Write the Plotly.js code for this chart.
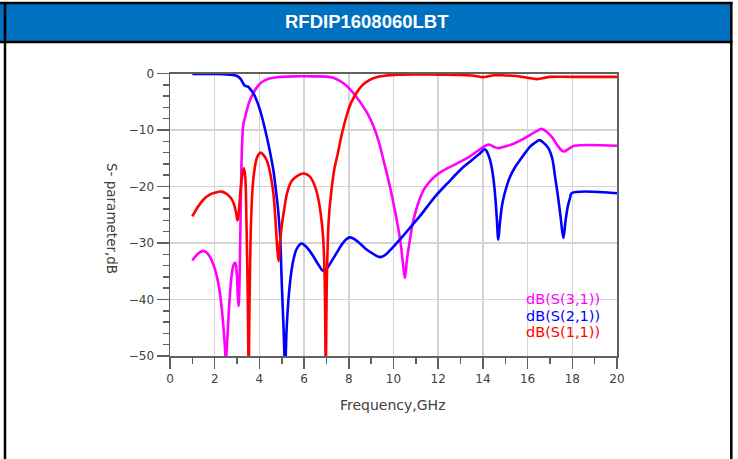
<!DOCTYPE html>
<html>
<head>
<meta charset="utf-8">
<script src="https://cdn.plot.ly/plotly-3.0.1.min.js"></script>
<style>html,body{margin:0;padding:0;background:#fff;}#chart{width:738px;height:459px;}</style>
</head>
<body>
<div id="chart"></div>
<script>
// ---- Data ----
var chartTitle = "RFDIP1608060LBT";
var seriesNames = ["dB(S(3,1))", "dB(S(2,1))", "dB(S(1,1))"];

var freqS31 = [1.0,1.25,1.5,1.75,2.0,2.2,2.35,2.45,2.5,2.55,2.65,2.75,2.85,2.92,2.98,3.03,3.07,3.12,3.17,3.22,3.28,3.35,3.45,3.58,3.72,3.88,4.05,4.2,4.45,4.8,5.5,6.5,7.0,7.3,7.6,7.85,8.1,8.35,8.6,8.85,9.1,9.35,9.55,9.84,10.1,10.3,10.42,10.51,10.6,10.75,10.9,11.1,11.35,11.65,11.95,12.4,12.85,13.4,13.8,14.1,14.3,14.5,14.7,15.0,15.4,15.8,16.1,16.4,16.63,16.85,17.1,17.35,17.6,17.85,18.1,20];
var s31 = [-33.1,-31.9,-31.4,-32.2,-34.5,-38,-43,-48,-51,-48,-41,-36,-33.8,-33.5,-35,-39,-41.2,-35,-22,-13,-9,-7.9,-6.3,-4.7,-3.5,-2.5,-1.7,-1.3,-0.9,-0.65,-0.5,-0.5,-0.55,-0.75,-1.3,-2.0,-3.0,-4.2,-5.6,-7.2,-9.3,-12.2,-15.3,-20,-25,-29.5,-33.5,-36.2,-33,-29,-25.8,-23,-20.6,-19.0,-17.9,-16.8,-15.9,-14.7,-13.6,-12.8,-12.6,-13.0,-13.2,-12.9,-12.4,-11.6,-10.9,-10.2,-9.8,-10.3,-11.3,-12.8,-13.8,-13.3,-12.8,-12.8];

var freqS21 = [1.0,2.0,2.5,2.8,3.0,3.15,3.28,3.36,3.48,3.6,3.73,3.88,4.03,4.18,4.33,4.48,4.62,4.75,4.85,4.93,5.0,5.08,5.15,5.22,5.3,5.37,5.45,5.52,5.65,5.8,5.9,6.05,6.25,6.45,6.65,6.85,7.0,7.2,7.45,7.7,7.9,8.05,8.25,8.5,8.75,9.0,9.2,9.4,9.6,9.84,10.1,10.44,10.8,11.19,11.5,11.9,12.4,12.83,13.2,13.42,13.8,14.09,14.2,14.32,14.45,14.54,14.62,14.69,14.76,14.85,14.95,15.2,15.45,15.66,15.9,16.1,16.35,16.53,16.7,16.93,17.1,17.23,17.35,17.48,17.6,17.7,17.8,17.9,17.97,20];
var s21 = [-0.1,-0.1,-0.15,-0.25,-0.45,-0.9,-1.8,-2.2,-2.3,-2.8,-3.5,-4.8,-6.5,-8.7,-11.2,-14,-17,-21,-24.7,-29,-37,-45,-52,-45,-40,-37,-34.5,-33,-31.2,-30.3,-30.1,-30.5,-31.4,-32.6,-33.9,-34.9,-34.6,-33.4,-31.8,-30.2,-29.3,-29.0,-29.3,-30.1,-31.0,-31.7,-32.2,-32.5,-32.2,-31.3,-30.2,-28.7,-27.0,-25.2,-23.6,-21.6,-19.5,-17.7,-16.3,-15.6,-14.4,-13.4,-14.0,-15.3,-18,-21.2,-25.5,-29.4,-26.5,-23.5,-21.6,-18.4,-16.5,-15.3,-14.0,-13.0,-12.2,-11.8,-12.2,-13.2,-15,-18.3,-21.5,-25.5,-29.1,-26,-23.5,-22,-21.2,-21.2];

var freqS11 = [1.0,1.25,1.5,1.8,2.1,2.3,2.5,2.7,2.85,2.95,3.02,3.08,3.15,3.25,3.3,3.36,3.42,3.48,3.52,3.56,3.62,3.7,3.8,3.9,4.05,4.2,4.35,4.5,4.62,4.72,4.8,4.86,4.92,5.0,5.1,5.25,5.45,5.7,6.0,6.25,6.45,6.6,6.75,6.85,6.92,6.97,7.02,7.1,7.2,7.35,7.5,7.7,7.9,8.1,8.35,8.6,8.9,9.2,9.6,10.2,11,12,13,13.6,14.0,14.2,14.5,15.0,15.5,16.0,16.4,16.7,17.0,18,20];
var s11 = [-25.3,-23.6,-22.3,-21.4,-21.0,-20.9,-21.2,-21.9,-23.0,-24.5,-26.0,-24.5,-21.0,-17.5,-16.8,-18,-26,-40,-52,-40,-27,-20,-16.5,-14.8,-14.0,-14.5,-15.6,-18,-21,-26,-31,-33.2,-30,-27,-24.3,-21,-19,-18.1,-17.7,-18.2,-19.6,-21.5,-25,-29,-36,-52,-36,-26,-21.5,-17,-14.3,-10.5,-7.5,-5.2,-3.4,-2.1,-1.2,-0.7,-0.4,-0.2,-0.15,-0.2,-0.25,-0.4,-0.65,-0.55,-0.3,-0.35,-0.45,-0.75,-1.0,-0.8,-0.6,-0.6,-0.6];

var xTickVals = [0,2,4,6,8,10,12,14,16,18,20];
var yTickVals = [0,-10,-20,-30,-40,-50];
var xTitle = "Frequency,GHz";
var yTitle = "S- parameter,dB";

// ---- Layout helpers (pixel -> paper) ----
var W = 738, H = 459;
function px(x){ return x / W; }
function py(y){ return 1 - y / H; }

var colors = ["#ff00ff", "#0000ff", "#ff0000"];
var chartFont = "DejaVu Sans, Arial, sans-serif";

var traces = [
  {x: freqS31, y: s31, name: seriesNames[0]},
  {x: freqS21, y: s21, name: seriesNames[1]},
  {x: freqS11, y: s11, name: seriesNames[2]}
].map(function(t, i){
  t.type = "scatter"; t.mode = "lines";
  t.line = {color: colors[i], width: 2.6, shape: "spline", smoothing: 1.0};
  t.hoverinfo = "skip";
  return t;
});

var layout = {
  width: W, height: H,
  margin: {l:0, r:0, t:0, b:0},
  paper_bgcolor: "#ffffff",
  plot_bgcolor: "#ffffff",
  showlegend: false,
  font: {family: chartFont, color: "#404040", size: 12},
  xaxis: {
    domain: [px(170), px(617)],
    range: [0, 20],
    tickvals: xTickVals,
    ticks: "outside", ticklen: 11, tickwidth: 1.5, tickcolor: "#606060",
    minor: {dtick: 1, ticks: "outside", ticklen: 6, tickwidth: 1.5, tickcolor: "#606060", showgrid: false},
    showgrid: true, gridcolor: "#d4d4d4", gridwidth: 1.5,
    showline: true, linecolor: "#606060", linewidth: 1.5, mirror: true,
    zeroline: false,
    tickfont: {family: chartFont, size: 12, color: "#404040"},
    fixedrange: true
  },
  yaxis: {
    domain: [py(356), py(73.5)],
    range: [-50, 0],
    tickvals: yTickVals,
    ticks: "outside", ticklen: 12, tickwidth: 1.5, tickcolor: "#606060",
    minor: {dtick: 2, ticks: "outside", ticklen: 6, tickwidth: 1.5, tickcolor: "#606060", showgrid: false},
    showgrid: true, gridcolor: "#d4d4d4", gridwidth: 1.5,
    showline: true, linecolor: "#606060", linewidth: 1.5, mirror: true,
    zeroline: false,
    tickfont: {family: chartFont, size: 12, color: "#404040"},
    fixedrange: true
  },
  shapes: [
    {type:"rect", xref:"paper", yref:"paper", x0:px(0), x1:px(731), y0:py(42), y1:py(3), fillcolor:"#0070c0", line:{width:0}, layer:"below"},
    {type:"line", xref:"paper", yref:"paper", x0:px(0), x1:px(732.5), y0:py(3), y1:py(3), line:{color:"#000", width:2.5}},
    {type:"line", xref:"paper", yref:"paper", x0:px(0), x1:px(732.5), y0:py(42), y1:py(42), line:{color:"#000", width:2.5}},
    {type:"line", xref:"paper", yref:"paper", x0:px(5), x1:px(5), y0:py(2), y1:py(459), line:{color:"#000", width:2.5}},
    {type:"line", xref:"paper", yref:"paper", x0:px(731.3), x1:px(731.3), y0:py(2), y1:py(459), line:{color:"#000", width:2.5}}
  ],
  annotations: [
    {xref:"paper", yref:"paper", x:px(367), y:py(22), text:"<b>"+chartTitle+"</b>", showarrow:false,
     font:{family:"Liberation Sans, Arial, sans-serif", size:18.5, color:"#ffffff"}, xanchor:"center", yanchor:"middle"},
    {xref:"paper", yref:"paper", x:px(393), y:py(405), text:xTitle, showarrow:false,
     font:{family:chartFont, size:14, color:"#404040"}, xanchor:"center", yanchor:"middle"},
    {xref:"paper", yref:"paper", x:px(112), y:py(218), text:yTitle, showarrow:false, textangle:90,
     font:{family:chartFont, size:13.5, color:"#404040"}, xanchor:"center", yanchor:"middle"},
    {xref:"paper", yref:"paper", x:px(602), y:py(299), text:seriesNames[0], showarrow:false,
     font:{family:chartFont, size:14.5, color:colors[0]}, xanchor:"right", yanchor:"middle"},
    {xref:"paper", yref:"paper", x:px(602), y:py(315.5), text:seriesNames[1], showarrow:false,
     font:{family:chartFont, size:14.5, color:colors[1]}, xanchor:"right", yanchor:"middle"},
    {xref:"paper", yref:"paper", x:px(602), y:py(332), text:seriesNames[2], showarrow:false,
     font:{family:chartFont, size:14.5, color:colors[2]}, xanchor:"right", yanchor:"middle"}
  ]
};

Plotly.newPlot("chart", traces, layout, {displayModeBar:false, staticPlot:true});
</script>
</body>
</html>
